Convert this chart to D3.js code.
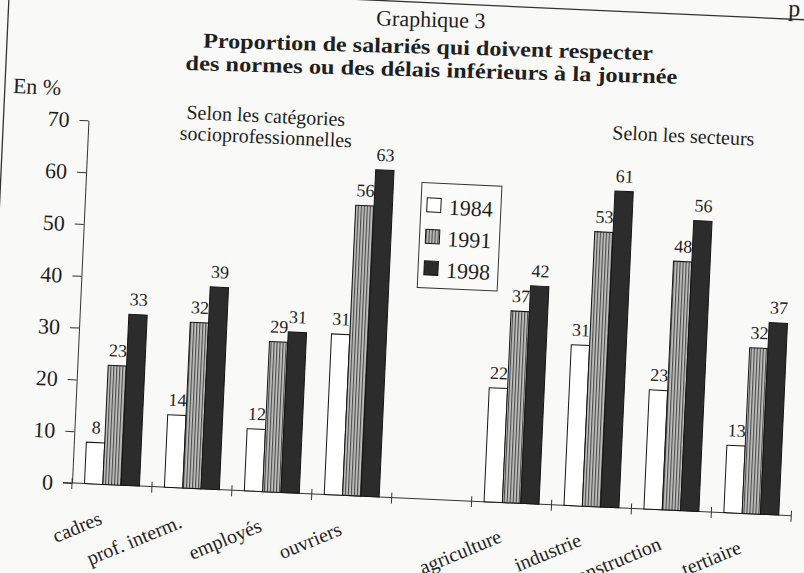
<!DOCTYPE html>
<html>
<head>
<meta charset="utf-8">
<script src="https://cdn.jsdelivr.net/npm/d3@7"></script>
<style>
  body { margin: 0; background: #f9f9f7; }
  svg { display: block; }
</style>
</head>
<body>
<div id="chart"></div>
<script>
// data
const categories = ["cadres", "prof. interm.", "employés", "ouvriers", "agriculture", "industrie", "construction", "tertiaire"];
const years = ["1984", "1991", "1998"];
const v1984 = [8, 14, 12, 31, 22, 31, 23, 13];
const v1991 = [23, 32, 29, 56, 37, 53, 48, 32];
const v1998 = [33, 39, 31, 63, 42, 61, 56, 37];
const yTicks = [0, 10, 20, 30, 40, 50, 60, 70];

const width = 804, height = 573;
const series = {"1984": v1984, "1991": v1991, "1998": v1998};
// one empty slot between the two groups of categories
const slots = [...categories.slice(0, 4), "_gap", ...categories.slice(4)];

const svg = d3.select("#chart").append("svg")
    .attr("width", width)
    .attr("height", height);

const defs = svg.append("defs");
const stripes = defs.append("pattern")
    .attr("id", "stripes")
    .attr("patternUnits", "userSpaceOnUse")
    .attr("width", 3)
    .attr("height", 6);
stripes.append("rect").attr("width", 3).attr("height", 6).attr("fill", "#c4c4c2");
stripes.append("rect").attr("width", 1.2).attr("height", 6).attr("fill", "#4a4a4a");

const fills = {"1984": "#ffffff", "1991": "url(#stripes)", "1998": "#2c2c2c"};
const serif = "'Liberation Serif', 'Times New Roman', serif";
const ink = "#1f1f1f";

// the scanned page is tilted, so everything is drawn straight and turned
const g = svg.append("g").attr("transform", "rotate(2.6, 72, 483)");

// page frame
g.append("rect")
    .attr("x", -13).attr("y", -13)
    .attr("width", 1000).attr("height", 1000)
    .attr("fill", "none")
    .attr("stroke", "#333")
    .attr("stroke-width", 1.3);
g.append("text")
    .attr("x", 766).attr("y", -16)
    .attr("font-family", serif).attr("font-size", 24).attr("fill", ink)
    .text("p");

// titles
const titles = g.append("g").attr("transform", "rotate(-1, 410, 35)");
titles.append("text")
    .attr("x", 410).attr("y", 11)
    .attr("text-anchor", "middle")
    .attr("font-family", serif).attr("font-size", 22).attr("fill", ink)
    .text("Graphique 3");
titles.append("text")
    .attr("x", 408).attr("y", 38)
    .attr("text-anchor", "middle")
    .attr("font-family", serif).attr("font-weight", "bold").attr("font-size", 21).attr("fill", ink)
    .attr("textLength", 450).attr("lengthAdjust", "spacingAndGlyphs")
    .text("Proportion de salariés qui doivent respecter");
titles.append("text")
    .attr("x", 412).attr("y", 61)
    .attr("text-anchor", "middle")
    .attr("font-family", serif).attr("font-weight", "bold").attr("font-size", 21).attr("fill", ink)
    .attr("textLength", 492).attr("lengthAdjust", "spacingAndGlyphs")
    .text("des normes ou des délais inférieurs à la journée");

g.append("text")
    .attr("x", -5).attr("y", 96)
    .attr("font-family", serif).attr("font-size", 22).attr("fill", ink)
    .text("En %");

// scales
const y = d3.scaleLinear().domain([0, 70]).range([483, 120]);
const x = d3.scaleBand().domain(slots).range([72, 792])
    .paddingInner(0.3125).paddingOuter(0.15625);
const xs = d3.scaleBand().domain(years).range([0, x.bandwidth()]);

// y axis
const yAxis = g.append("g")
    .attr("transform", "translate(72,0)")
    .call(d3.axisLeft(y).tickValues(yTicks).tickSize(9).tickPadding(10).tickSizeOuter(0));
yAxis.attr("font-family", serif).attr("font-size", 22);
yAxis.select(".domain").attr("stroke", "#333");
yAxis.selectAll(".tick line").attr("stroke", "#333");
yAxis.selectAll(".tick text").attr("fill", ink);

// x axis: plain line with ticks between the categories
const gap = (x.step() - x.bandwidth()) / 2;
const bounds = slots.map(s => x(s) - gap).concat([x(slots[slots.length - 1]) - gap + x.step()]);
g.append("line")
    .attr("x1", 63).attr("x2", bounds[bounds.length - 1])
    .attr("y1", y(0)).attr("y2", y(0))
    .attr("stroke", "#333");
g.selectAll(".xtick")
    .data(bounds)
    .join("line")
    .attr("class", "xtick")
    .attr("x1", d => d).attr("x2", d => d)
    .attr("y1", y(0) - 5).attr("y2", y(0) + 6)
    .attr("stroke", "#333");

// bars
years.forEach(yr => {
    const vals = series[yr];
    g.selectAll(".bar-" + yr)
        .data(categories)
        .join("rect")
        .attr("class", "bar-" + yr)
        .attr("x", (c) => x(c) + xs(yr))
        .attr("y", (c, i) => y(vals[i]))
        .attr("width", xs.bandwidth())
        .attr("height", (c, i) => y(0) - y(vals[i]))
        .attr("fill", fills[yr])
        .attr("stroke", "#151515")
        .attr("stroke-width", 1);

    g.selectAll(".val-" + yr)
        .data(categories)
        .join("text")
        .attr("class", "val-" + yr)
        .attr("x", (c) => x(c) + xs(yr) + xs.bandwidth() / 2)
        .attr("y", (c, i) => y(vals[i]) - 9)
        .attr("text-anchor", "middle")
        .attr("font-family", serif).attr("font-size", 18).attr("fill", ink)
        .text((c, i) => vals[i]);
});

// category labels
g.selectAll(".cat")
    .data(categories)
    .join("text")
    .attr("class", "cat")
    .attr("text-anchor", "end")
    .attr("transform", c => `translate(${x(c) + x.bandwidth() / 2 - 7}, ${y(0) + 39}) rotate(-25)`)
    .attr("font-family", serif).attr("font-size", 20).attr("fill", ink)
    .text(c => c);

// group headings
g.append("text")
    .attr("x", 249).attr("y", 114)
    .attr("text-anchor", "middle")
    .attr("font-family", serif).attr("font-size", 20).attr("fill", ink)
    .text("Selon les catégories");
g.append("text")
    .attr("x", 250).attr("y", 135)
    .attr("text-anchor", "middle")
    .attr("font-family", serif).attr("font-size", 20).attr("fill", ink)
    .text("socioprofessionnelles");
g.append("text")
    .attr("x", 667).attr("y", 115)
    .attr("text-anchor", "middle")
    .attr("font-family", serif).attr("font-size", 20).attr("fill", ink)
    .text("Selon les secteurs");

// legend
const legend = g.append("g").attr("transform", "translate(408,167)");
legend.append("rect")
    .attr("width", 80).attr("height", 105)
    .attr("fill", "#fbfbfa")
    .attr("stroke", "#333");
const items = legend.selectAll(".item")
    .data(years)
    .join("g")
    .attr("class", "item")
    .attr("transform", (d, i) => `translate(6, ${15 + i * 31.5})`);
items.append("rect")
    .attr("width", 14).attr("height", 14)
    .attr("fill", d => fills[d])
    .attr("stroke", "#151515");
items.append("text")
    .attr("x", 22).attr("y", 16)
    .attr("font-family", serif).attr("font-size", 22).attr("fill", ink)
    .text(d => d);
</script>
</body>
</html>
